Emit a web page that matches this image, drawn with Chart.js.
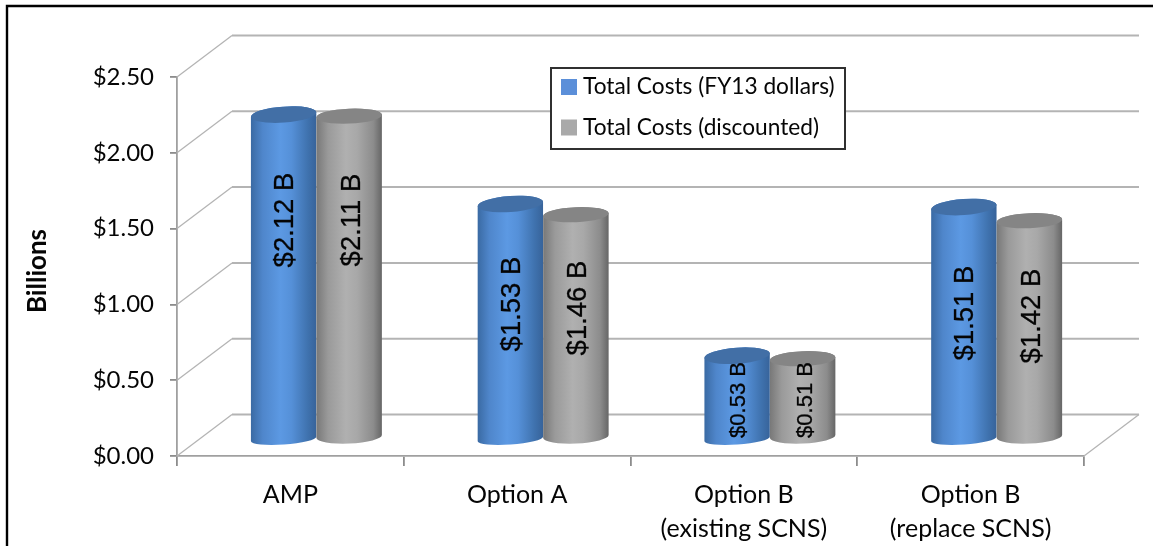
<!DOCTYPE html>
<html><head><meta charset="utf-8">
<script src="https://cdn.jsdelivr.net/npm/chart.js@4"></script>
<style>html,body{margin:0;background:#fff}canvas{display:block;filter:blur(0.45px)}</style>
</head><body><canvas id="c" width="1153" height="546"></canvas>
<script>
const categories=[['AMP'],['Option A'],['Option B','(existing SCNS)'],['Option B','(replace SCNS)']];
const fy13Dollars=[2.12,1.53,0.53,1.51];
const discounted=[2.11,1.46,0.51,1.42];
const seriesNames=['Total Costs (FY13 dollars)','Total Costs (discounted)'];
const yTicks=[0,0.5,1,1.5,2,2.5];
const axisTitle='Billions';
const fmtBar=v=>'$'+v.toFixed(2)+' B';
const FONT='Lato, "Open Sans", sans-serif';
const depthX=55,depthY=41.5,cylDx=26;
const looks=[
 {stops:['#3a6aa3','#4f86cb','#5c99e3','#5590d8','#3f72ae','#37639a'],top:'#426fa6',tilt:-0.07,ryT:8,ryB:5.5,yB:17},
 {stops:['#787878','#9a9a9a','#b0b0b0','#a8a8a8','#8c8c8c','#666666'],top:'#858585',tilt:-0.045,ryT:7.5,ryB:7,yB:19.5}];
// vertical centre of each bar label, px from the y(0) baseline, per series then category
const labelLift=[[236,152,56,143],[236,148,56,140]];

const cyl3d={id:'cyl3d',
 beforeDatasetsDraw(ch){
  const {ctx,chartArea:a,scales:{y}}=ch;
  ctx.save();ctx.strokeStyle='#b4b4b4';
  yTicks.forEach(t=>{const p=y.getPixelForValue(t);
   ctx.lineWidth=1.3;ctx.beginPath();ctx.moveTo(a.left,p);ctx.lineTo(a.left+depthX,p-depthY);ctx.stroke();
   ctx.lineWidth=2;ctx.beginPath();ctx.moveTo(a.left+depthX,p-depthY);ctx.lineTo(a.right+depthX,p-depthY);ctx.stroke();});
  ctx.lineWidth=1.3;ctx.beginPath();ctx.moveTo(a.right,a.bottom);ctx.lineTo(a.right+depthX,a.bottom-depthY);ctx.stroke();
  ctx.restore();
 },
 beforeDatasetDraw(){return false;},
 afterDatasetsDraw(ch){
  const {ctx,scales:{y}}=ch;const y0=y.getPixelForValue(0);
  ch.data.datasets.forEach((ds,di)=>{
   const L=looks[di];
   ch.getDatasetMeta(di).data.forEach((el,i)=>{
    const cx=el.x+cylDx,rx=el.width/2,yT=el.y-20,yBase=y0-L.yB;
    const g=ctx.createLinearGradient(cx-rx,0,cx+rx,0);
    [0,.18,.45,.62,.87,1].forEach((s,k)=>g.addColorStop(s,L.stops[k]));
    ctx.save();ctx.fillStyle=g;ctx.beginPath();
    ctx.ellipse(cx,yBase,rx,L.ryB,L.tilt,Math.PI,0,true);
    ctx.ellipse(cx,yT,rx,L.ryT,L.tilt,0,Math.PI,true);
    ctx.closePath();ctx.fill();
    ctx.fillStyle=L.top;ctx.beginPath();ctx.ellipse(cx,yT,rx,L.ryT,L.tilt,0,Math.PI*2);ctx.fill();
    ctx.translate(cx+2+(di?1:0),y0-labelLift[di][i]);ctx.rotate(-Math.PI/2);
    ctx.font=(ds.data[i]<1?'22px':'27.5px')+' "Liberation Sans", Arial, sans-serif';
    ctx.fillStyle='#050505';ctx.strokeStyle='#050505';ctx.lineWidth=0.3;ctx.textAlign='center';ctx.textBaseline='middle';
    ctx.fillText(fmtBar(ds.data[i]),0,0);ctx.strokeText(fmtBar(ds.data[i]),0,0);
    ctx.restore();
   });
  });
  // legend
  ctx.save();ctx.fillStyle='#fff';ctx.strokeStyle='#303030';ctx.lineWidth=2;
  ctx.fillRect(551,68,294,81);ctx.strokeRect(551,68,294,81);
  ch.data.datasets.forEach((ds,di)=>{
   const yy=87+di*40.5;
   ctx.fillStyle=ds.backgroundColor;ctx.fillRect(561,yy-8,16,16);
   ctx.fillStyle='#050505';ctx.font='22.7px '+FONT;ctx.textBaseline='middle';ctx.textAlign='left';
   ctx.fillText(ds.label,583,yy);
  });
  ctx.restore();
 },
 afterDraw(ch){
  const {ctx}=ch;ctx.save();ctx.strokeStyle='#000';ctx.lineWidth=2.4;
  ctx.beginPath();ctx.moveTo(7,546);ctx.lineTo(7,6);ctx.lineTo(1153,6);ctx.stroke();
  ctx.translate(38,271);ctx.rotate(-Math.PI/2);
  ctx.fillStyle='#050505';ctx.font='bold 26px '+FONT;ctx.textAlign='center';ctx.textBaseline='middle';
  ctx.fillText(axisTitle,0,0);ctx.restore();
 }
};

new Chart(document.getElementById('c'),{
 type:'bar',
 plugins:[cyl3d],
 data:{labels:categories,datasets:[
  {label:seriesNames[0],data:fy13Dollars,backgroundColor:'#5b8fd9'},
  {label:seriesNames[1],data:discounted,backgroundColor:'#a9a9a9'}]},
 options:{
  responsive:false,animation:false,
  events:[],
  layout:{autoPadding:false,padding:{left:0,right:69,top:77,bottom:0}},
  datasets:{bar:{categoryPercentage:0.578,barPercentage:1}},
  plugins:{legend:{display:false},tooltip:{enabled:false},title:{display:false}},
  scales:{
   x:{afterFit(s){s.height=90;},
    grid:{drawOnChartArea:false,color:'#8c8c8c',lineWidth:1.8,tickLength:10,offset:true},
    border:{color:'#a0a0a0',width:1.8},
    ticks:{font:{family:FONT,size:25,lineHeight:1.36},color:'#050505',padding:12,maxRotation:0,autoSkip:false}},
   y:{min:0,max:2.5,afterFit(s){s.width=177;},
    afterBuildTicks(s){s.ticks=yTicks.map(v=>({value:v}));},
    grid:{drawOnChartArea:false,color:'#8c8c8c',lineWidth:1.8,tickLength:7},
    border:{color:'#a0a0a0',width:1.8},
    ticks:{callback:v=>'$'+v.toFixed(2),font:{family:FONT,size:24},color:'#050505',padding:16}}
  }
 }
});
</script></body></html>
